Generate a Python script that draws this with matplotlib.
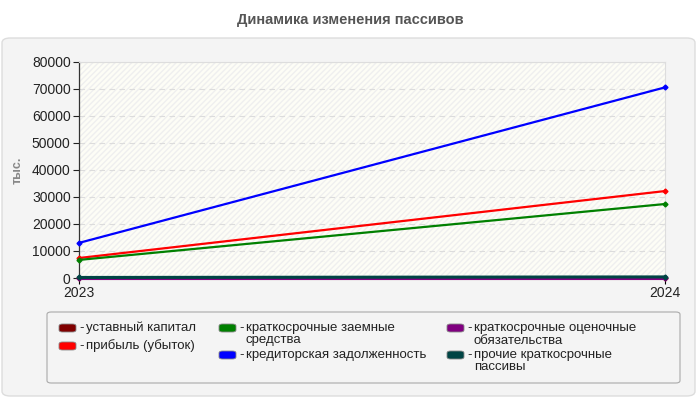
import matplotlib.pyplot as plt
from matplotlib.patches import FancyBboxPatch, Rectangle

plt.rcParams['font.family'] = ['Liberation Sans', 'DejaVu Sans']

# данные графика
years = ['2023', '2024']
series_names = [
    'уставный капитал',
    'прибыль (убыток)',
    'краткосрочные заемные средства',
    'кредиторская задолженность',
    'краткосрочные оценочные обязательства',
    'прочие краткосрочные пассивы',
]
ustavny = [10, 10]
pribyl = [7400, 32200]
zaemnye = [6700, 27400]
kreditor = [13000, 70600]
ocenochnye = [0, 0]
prochie = [200, 400]
colors = ['#800000', '#ff0000', '#008000', '#0000ff', '#800080', '#004444']
legend_lines = [
    ['уставный капитал'],
    ['прибыль (убыток)'],
    ['краткосрочные заемные', 'средства'],
    ['кредиторская задолженность'],
    ['краткосрочные оценочные', 'обязательства'],
    ['прочие краткосрочные', 'пассивы'],
]

W, H = 700, 400
fig = plt.figure(figsize=(7, 4), dpi=100)
fig.patch.set_facecolor('white')


def fx(px):
    return px / W


def fy(py):
    return 1 - py / H


# серая подложка под графиком
panel = FancyBboxPatch((fx(2), fy(396)), fx(693), (396 - 38) / H,
                       boxstyle='round,pad=0,rounding_size=0.012',
                       transform=fig.transFigure, facecolor='#f4f4f4',
                       edgecolor='#dddddd', linewidth=1, zorder=-5)
fig.patches.append(panel)

fig.text(0.5, fy(20), 'Динамика изменения пассивов', ha='center', va='center',
         fontsize=10.5, fontweight='bold', color='#555555')

ax = fig.add_axes([fx(79), fy(278), fx(665 - 79), (278 - 62) / H], zorder=2)
ax.set_facecolor('#fdfdf6')
ax.add_patch(Rectangle((0, 0), 1, 1, transform=ax.transAxes, facecolor='none',
                       edgecolor='#efefef', hatch='//////', linewidth=0, zorder=0))

x = list(range(len(years)))
values = [ustavny, pribyl, zaemnye, kreditor, ocenochnye, prochie]
order = [2, 1, 3, 0, 4, 5]
for i in order:
    lw = 2.2 if max(values[i]) < 1000 else 1.6
    ax.plot(x, values[i], color=colors[i], lw=lw, marker='D', markersize=2.5,
            zorder=3 + i, clip_on=False)

ax.set_xlim(0, 1)
ax.set_ylim(0, 80000)
ax.set_xticks(x)
ax.set_xticklabels(years, fontsize=10, color='#222222')
ax.set_yticks(range(0, 80001, 10000))
ax.tick_params(axis='y', labelsize=10, colors='#222222', length=4, width=0.8,
               pad=2)
ax.tick_params(axis='x', length=4, width=0.8, pad=2)
ax.yaxis.grid(True, color='#dcdcdc', linestyle=(0, (5, 4)), linewidth=0.8)
ax.set_axisbelow(True)
for side in ['top', 'right']:
    ax.spines[side].set_color('#dddddd')
for side in ['left', 'bottom']:
    ax.spines[side].set_color('#333333')
    ax.spines[side].set_linewidth(0.9)

fig.text(fx(18), fy(170), 'тыс.', rotation=90, ha='center', va='center',
         fontsize=9, fontweight='bold', color='#888888')

# легенда вручную
leg_box = FancyBboxPatch((fx(47), fy(383)), fx(680 - 47), (383 - 312) / H,
                         boxstyle='round,pad=0,rounding_size=0.006',
                         transform=fig.transFigure, facecolor='#f4f4f4',
                         edgecolor='#aaaaaa', linewidth=0.8, zorder=-4)
fig.patches.append(leg_box)

col_x = [59, 219, 447]
item_pos = [(0, 328), (0, 346), (1, 328), (1, 355), (2, 328), (2, 355)]
for i, (col, yy) in enumerate(item_pos):
    sx = col_x[col]
    sw = FancyBboxPatch((fx(sx), fy(yy + 4)), fx(17), 8 / H,
                        boxstyle='round,pad=0,rounding_size=0.005',
                        transform=fig.transFigure, facecolor=colors[i],
                        edgecolor='#888888', linewidth=0.6)
    fig.patches.append(sw)
    fig.text(fx(sx + 20), fy(yy), '-', ha='left', va='center', fontsize=9.5,
             color='#222222')
    for j, line in enumerate(legend_lines[i]):
        fig.text(fx(sx + 27), fy(yy + j * 12.5), line, ha='left', va='center',
                 fontsize=9.5, color='#222222')

fig.savefig('out.png', dpi=100)
